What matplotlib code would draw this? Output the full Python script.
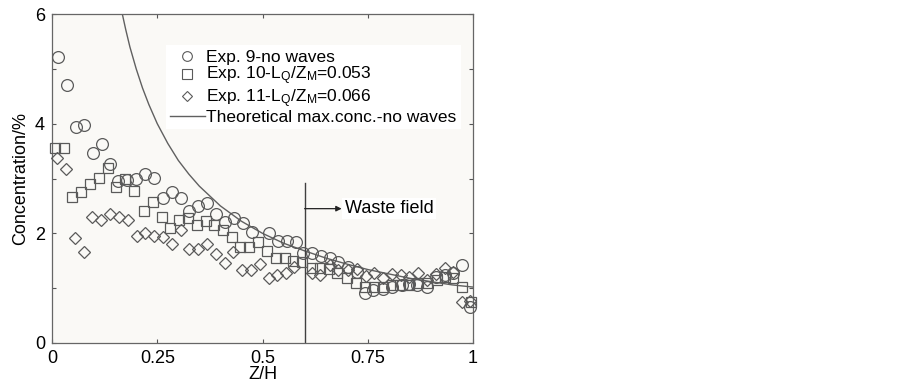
"""
Concentration vs Z/H for three experiments with theoretical max concentration
"""

import matplotlib
matplotlib.use('Agg')
import matplotlib.pyplot as plt
from matplotlib.lines import Line2D

plt.rcParams['font.family'] = ['Liberation Sans', 'DejaVu Sans']
plt.rcParams['mathtext.fontset'] = 'custom'
plt.rcParams['mathtext.rm'] = 'Liberation Sans'
plt.rcParams['mathtext.it'] = 'Liberation Sans'

# Exp. 9 - no waves (circles)
exp9_x = [0.014, 0.036, 0.057, 0.076, 0.097, 0.119, 0.138, 0.157, 0.178, 0.199,
          0.221, 0.243, 0.264, 0.285, 0.306, 0.325, 0.347, 0.368, 0.390, 0.411,
          0.432, 0.454, 0.475, 0.515, 0.537, 0.558, 0.580, 0.596, 0.617, 0.639,
          0.660, 0.679, 0.703, 0.724, 0.743, 0.762, 0.786, 0.808, 0.831, 0.848,
          0.867, 0.890, 0.912, 0.933, 0.952, 0.974, 0.993]
exp9_y = [5.22, 4.71, 3.94, 3.98, 3.47, 3.63, 3.27, 2.96, 2.97, 3.00,
          3.08, 3.01, 2.64, 2.75, 2.64, 2.41, 2.50, 2.55, 2.35, 2.21,
          2.28, 2.19, 2.03, 2.00, 1.86, 1.86, 1.84, 1.64, 1.64, 1.59,
          1.55, 1.48, 1.39, 1.29, 0.91, 0.96, 0.98, 1.02, 1.06, 1.08,
          1.05, 1.02, 1.20, 1.24, 1.28, 1.42, 0.66]

# Exp. 10 (squares)
exp10_x = [0.007, 0.028, 0.048, 0.069, 0.090, 0.112, 0.133, 0.152, 0.173, 0.195,
           0.218, 0.240, 0.261, 0.280, 0.302, 0.323, 0.344, 0.366, 0.385, 0.406,
           0.428, 0.447, 0.468, 0.489, 0.511, 0.532, 0.553, 0.572, 0.594, 0.618,
           0.636, 0.658, 0.677, 0.701, 0.722, 0.743, 0.765, 0.786, 0.808, 0.827,
           0.848, 0.869, 0.890, 0.914, 0.933, 0.952, 0.974, 0.995]
exp10_y = [3.56, 3.56, 2.66, 2.75, 2.90, 3.01, 3.19, 2.85, 2.99, 2.77,
           2.41, 2.57, 2.30, 2.10, 2.24, 2.28, 2.15, 2.23, 2.15, 2.06,
           1.93, 1.75, 1.75, 1.84, 1.68, 1.55, 1.55, 1.50, 1.48, 1.37,
           1.37, 1.35, 1.28, 1.19, 1.09, 1.02, 1.02, 1.02, 1.06, 1.06,
           1.06, 1.09, 1.09, 1.15, 1.20, 1.19, 1.02, 0.75]

# Exp. 11 (diamonds)
exp11_x = [0.012, 0.033, 0.054, 0.076, 0.095, 0.116, 0.138, 0.159, 0.180, 0.202,
           0.221, 0.242, 0.263, 0.285, 0.306, 0.325, 0.347, 0.368, 0.390, 0.411,
           0.430, 0.451, 0.473, 0.494, 0.515, 0.534, 0.556, 0.575, 0.618, 0.637,
           0.660, 0.679, 0.703, 0.724, 0.745, 0.765, 0.786, 0.808, 0.829, 0.848,
           0.869, 0.890, 0.912, 0.933, 0.952, 0.974, 0.993]
exp11_y = [3.38, 3.17, 1.92, 1.66, 2.30, 2.24, 2.35, 2.30, 2.24, 1.95,
           2.00, 1.95, 1.93, 1.80, 2.06, 1.71, 1.71, 1.80, 1.62, 1.46,
           1.66, 1.33, 1.33, 1.44, 1.19, 1.24, 1.28, 1.38, 1.28, 1.24,
           1.42, 1.33, 1.33, 1.35, 1.22, 1.28, 1.19, 1.26, 1.24, 1.20,
           1.28, 1.15, 1.26, 1.36, 1.30, 0.75, 0.76]

# Theoretical max. concentration - no waves
theory_x = [0.167, 0.175, 0.185, 0.2, 0.215, 0.23, 0.25, 0.275, 0.3, 0.325, 0.35,
            0.4, 0.45, 0.5, 0.55, 0.6, 0.65, 0.7, 0.75, 0.8, 0.85, 0.9, 0.95, 1.0]
theory_y = [6.0, 5.72, 5.40, 5.0, 4.65, 4.35, 4.0, 3.64, 3.33, 3.08, 2.86,
            2.50, 2.22, 2.00, 1.82, 1.68, 1.55, 1.44, 1.34, 1.26, 1.18, 1.12, 1.06, 1.02]

x_ticks = [0, 0.25, 0.5, 0.75, 1]
x_tick_labels = ['0', '0.25', '0.5', '0.75', '1']
y_ticks = [0, 2, 4, 6]
y_minor = [1, 3, 5]

waste_x = 0.6
waste_top = 2.92
waste_arrow_y = 2.45

edge = '#5a5a5a'
fs = 13

fig = plt.figure(figsize=(9.03, 3.84), dpi=100)
ax = fig.add_axes([0.0576, 0.1068, 0.4662, 0.8567])
ax.set_facecolor('#faf9f6')

ax.plot(theory_x, theory_y, '-', color='#606060', linewidth=1.0, zorder=2)
ax.plot(exp9_x, exp9_y, 'o', ms=8.5, mfc='none', mec=edge, mew=0.9,
        clip_on=False, zorder=3)
ax.plot(exp10_x, exp10_y, 's', ms=7.5, mfc='none', mec=edge, mew=0.9,
        clip_on=False, zorder=3)
ax.plot(exp11_x, exp11_y, 'D', ms=6.2, mfc='none', mec=edge, mew=0.9,
        clip_on=False, zorder=3)

# waste field marker
ax.plot([waste_x, waste_x], [0, waste_top], color='#404040', linewidth=1.0, zorder=2)
ax.annotate('', xy=(0.688, waste_arrow_y), xytext=(waste_x, waste_arrow_y),
            arrowprops=dict(arrowstyle='-|>', color='#222222', lw=0.9,
                            mutation_scale=8, shrinkA=0, shrinkB=0))
ax.text(0.695, waste_arrow_y, 'Waste field', fontsize=fs, va='center', ha='left',
        bbox=dict(facecolor='white', edgecolor='none', pad=1.5), zorder=4)

ax.set_xlim(0, 1)
ax.set_ylim(0, 6)
ax.set_xticks(x_ticks)
ax.set_xticklabels(x_tick_labels)
ax.set_yticks(y_ticks)
ax.set_yticks(y_minor, minor=True)
ax.tick_params(which='both', direction='in', top=True, right=True,
               labelsize=fs, length=3, width=0.8, color='#555555', pad=5)
for s in ax.spines.values():
    s.set_color('#666666')
    s.set_linewidth(0.9)

ax.set_xlabel('Z/H', fontsize=fs, labelpad=-1)
ax.set_ylabel('Concentration/%', fontsize=fs, labelpad=4)

handles = [
    Line2D([0], [0], marker='o', ls='none', ms=7, mfc='none', mec=edge, mew=0.8),
    Line2D([0], [0], marker='s', ls='none', ms=6.5, mfc='none', mec=edge, mew=0.8),
    Line2D([0], [0], marker='D', ls='none', ms=5.5, mfc='none', mec=edge, mew=0.8),
    Line2D([0], [0], color='#606060', lw=1.0),
]
labels = ['Exp. 9-no waves',
          r'Exp. 10-L$_{\rm Q}$/Z$_{\rm M}$=0.053',
          r'Exp. 11-L$_{\rm Q}$/Z$_{\rm M}$=0.066',
          'Theoretical max.conc.-no waves']
leg = ax.legend(handles, labels, loc='upper left', bbox_to_anchor=(0.27, 0.905),
                fontsize=12.5, frameon=True, fancybox=False, borderaxespad=0,
                borderpad=0.25, handlelength=2.0, handletextpad=0.1,
                labelspacing=0.0)
leg.get_frame().set_facecolor('white')
leg.get_frame().set_edgecolor('none')
leg.get_frame().set_alpha(1)

plt.savefig('out.png', dpi=100)
